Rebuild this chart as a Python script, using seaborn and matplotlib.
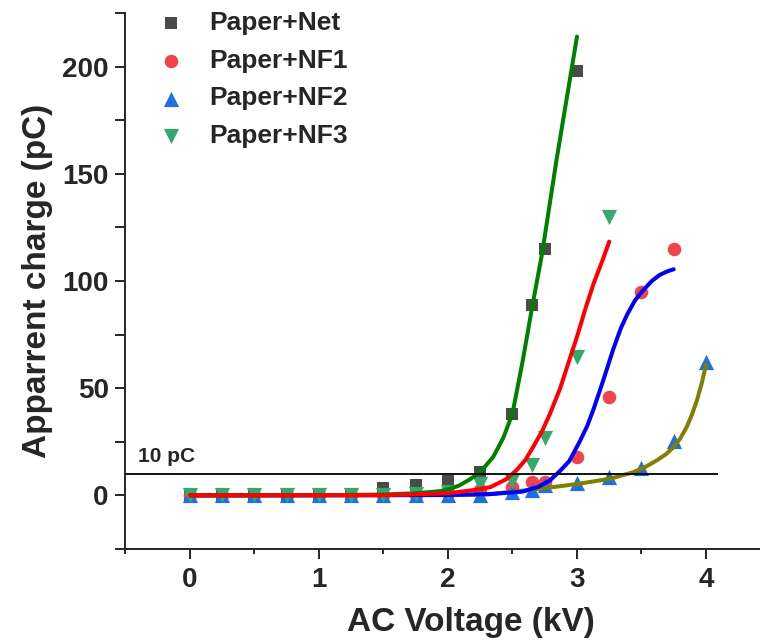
import numpy as np
import pandas as pd
import matplotlib
matplotlib.use("Agg")
import matplotlib.pyplot as plt
from matplotlib.ticker import MultipleLocator
import seaborn as sns

# ---------------- data ----------------
series_names = ["Paper+Net", "Paper+NF1", "Paper+NF2", "Paper+NF3"]

net_x = [0, 0.25, 0.5, 0.75, 1.0, 1.25, 1.5, 1.75, 2.0, 2.25, 2.5, 2.65, 2.75, 3.0]
net_y = [0, 0, 0, 0, 0, 0.5, 3.4, 4.7, 6.7, 11, 38, 89, 115, 198]

nf1_x = [0, 0.25, 0.5, 0.75, 1.0, 1.25, 1.5, 1.75, 2.0, 2.25, 2.5, 2.65, 2.75, 3.0, 3.25, 3.5, 3.75]
nf1_y = [0, 0, 0, 0, 0, 0, 0, 0.3, 1.0, 2.5, 3.9, 6.2, 6.2, 17.9, 46, 95, 115]

nf2_x = [0, 0.25, 0.5, 0.75, 1.0, 1.25, 1.5, 1.75, 2.0, 2.25, 2.5, 2.65, 2.75, 3.0, 3.25, 3.5, 3.75, 4.0]
nf2_y = [0, 0, 0, 0, 0, 0, 0, 0, 0.2, 0.3, 1.6, 2.3, 4.7, 6.0, 8.6, 12.9, 25.4, 62.3]

nf3_x = [0, 0.25, 0.5, 0.75, 1.0, 1.25, 1.5, 1.75, 2.0, 2.25, 2.5, 2.65, 2.75, 3.0, 3.25]
nf3_y = [0, 0, 0, 0, 0, 0, 0, 0.5, 1.5, 5.5, 6.5, 14, 27, 64.6, 130]

# fitted curves
fit_green_x = [0, 1.0, 1.5, 1.75, 1.94, 2.02, 2.09, 2.17, 2.25, 2.35, 2.43, 2.5, 2.58, 2.65, 2.73, 2.84, 2.92, 3.0]
fit_green_y = [0, 0.1, 0.4, 1.0, 2.0, 3.1, 4.7, 7.5, 10.9, 17.9, 27, 38.2, 63, 87, 113, 156, 185, 214]

fit_red_x = [0, 1.5, 2.0, 2.2, 2.33, 2.45, 2.53, 2.6, 2.66, 2.73, 2.79, 2.87, 2.94, 3.0, 3.07, 3.13, 3.2, 3.25]
fit_red_y = [0, 0.1, 1.0, 2.5, 3.9, 7.5, 11.7, 16.5, 22.6, 30, 38, 50, 63, 74, 88, 99, 110, 118.4]

fit_blue_x = [0, 2.0, 2.33, 2.58, 2.7, 2.79, 2.87, 2.94, 3.02, 3.08, 3.13, 3.2, 3.28, 3.34, 3.39, 3.45, 3.51, 3.58, 3.64, 3.7, 3.75]
fit_blue_y = [0, 0.2, 0.6, 1.8, 4, 7, 11.5, 16, 25, 32.5, 40.5, 53, 68, 78, 84.5, 91, 95.5, 100, 102.8, 104.5, 105.5]

fit_olive_x = [0, 2.0, 2.3, 2.64, 2.87, 3.02, 3.26, 3.44, 3.53, 3.62, 3.69, 3.75, 3.8, 3.85, 3.89, 3.93, 3.97, 4.0]
fit_olive_y = [0, 0.15, 0.5, 2.6, 4.3, 5.5, 7.8, 10.9, 13.3, 16.4, 19.2, 22.6, 26.5, 31.9, 37.5, 44.4, 53, 61]

threshold_value = 10
threshold_x = [-0.5, 4.09]
threshold_label = "10 pC"

x_label = "AC Voltage (kV)"
y_label = "Apparrent charge (pC)"
x_ticks = [0, 1, 2, 3, 4]
y_ticks = [0, 50, 100, 150, 200]

# ---------------- styling ----------------
sns.set_style("ticks")
plt.rcParams["font.family"] = ["Liberation Sans", "DejaVu Sans"]
plt.rcParams["font.weight"] = "bold"

fig = plt.figure(figsize=(7.6, 6.41), dpi=100)
ax = fig.add_axes([0.1651, 0.1435, 0.8487, 0.8362])

marker_colors = ["#4a4a4a", "#f0434a", "#1f6fe0", "#35a86b"]
markers = ["s", "o", "^", "v"]
sizes = [85, 95, 120, 120]
pts = [(net_x, net_y), (nf1_x, nf1_y), (nf2_x, nf2_y), (nf3_x, nf3_y)]

for name, (xs, ys), c, m, s in zip(series_names, pts, marker_colors, markers, sizes):
    df = pd.DataFrame({"x": xs, "y": ys})
    sns.scatterplot(data=df, x="x", y="y", ax=ax, color=c, marker=m, s=s,
                    linewidth=0, label=name, zorder=2)

fits = [(fit_olive_x, fit_olive_y, "#808000"),
        (fit_blue_x, fit_blue_y, "#0000ff"),
        (fit_green_x, fit_green_y, "#008000"),
        (fit_red_x, fit_red_y, "#ff0000")]
for fx, fy, c in fits:
    df = pd.DataFrame({"x": fx, "y": fy})
    sns.lineplot(data=df, x="x", y="y", ax=ax, color=c, linewidth=2.9,
                 legend=False, zorder=3, sort=True)
for ln in ax.lines:
    ln.set_solid_joinstyle("round")
    ln.set_solid_capstyle("round")

ax.hlines(threshold_value, threshold_x[0], threshold_x[1], color="black",
          linewidth=1.3, zorder=4)
ax.text(-0.4, threshold_value + 3.5, threshold_label, fontsize=15,
        fontweight="bold", ha="left", va="bottom")

ax.set_xlim(-0.5, 4.5)
ax.set_ylim(-25, 225)
ax.set_xticks(x_ticks)
ax.set_yticks(y_ticks)
ax.xaxis.set_minor_locator(MultipleLocator(0.5))
ax.yaxis.set_minor_locator(MultipleLocator(25))
ax.tick_params(axis="x", which="major", length=7, width=1.4, labelsize=20, pad=6)
ax.tick_params(axis="x", which="minor", length=3.5, width=1.4)
ax.tick_params(axis="y", which="major", length=7, width=1.4, labelsize=20, pad=5)
ax.tick_params(axis="y", which="minor", length=7, width=1.4)
for lab in ax.get_xticklabels() + ax.get_yticklabels():
    lab.set_fontweight("bold")

for sp in ["top", "right"]:
    ax.spines[sp].set_visible(False)
for sp in ["left", "bottom"]:
    ax.spines[sp].set_linewidth(1.4)

ax.set_xlabel(x_label, fontsize=24, fontweight="bold")
ax.set_ylabel(y_label, fontsize=24, fontweight="bold")
ax.xaxis.set_label_coords(0.536, -0.108)
ax.yaxis.set_label_coords(-0.113, 0.5)

leg = ax.legend(loc="upper left", bbox_to_anchor=(157.8 / 760, 1 - 11 / 641),
                bbox_transform=fig.transFigure, frameon=False, fontsize=19,
                handlelength=1.0, handletextpad=0.94, labelspacing=0.52,
                borderpad=0, borderaxespad=0)
for t in leg.get_texts():
    t.set_fontweight("bold")

fig.savefig("out.png", dpi=100)
